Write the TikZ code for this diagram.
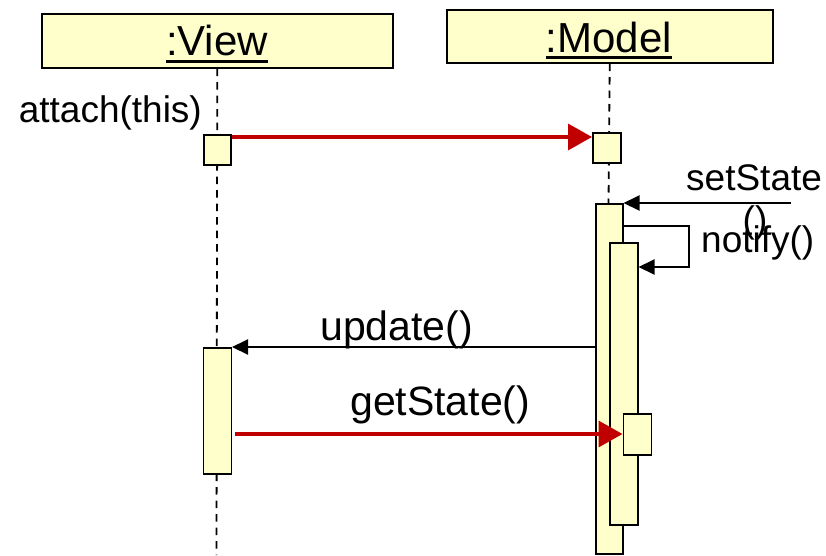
\documentclass[tikz,border=0pt]{standalone}
\usepackage{fontspec}
\setmainfont{Liberation Sans}
\usetikzlibrary{arrows.meta}
\definecolor{actfill}{HTML}{FFFFCC}
\definecolor{msgred}{HTML}{C00000}
\begin{document}
\begin{tikzpicture}[x=1pt,y=-1pt,
  objbox/.style={draw, line width=1.5pt, fill=actfill, inner sep=0pt, anchor=north west},
  actbox/.style={draw, line width=1.5pt, fill=actfill, inner sep=0pt, anchor=north west},
  lifeline/.style={line width=1.8pt, dash pattern=on 7.5pt off 6pt},
  msg/.style={line width=2pt, -{Triangle[length=16pt,width=15pt]}},
  redmsg/.style={draw=msgred, line width=3.5pt, -{Triangle[length=24pt,width=26pt]}, fill=msgred},
  title/.style={inner sep=0pt, anchor=base, font=\fontsize{42}{48}\selectfont},
  lbl/.style={inner sep=0pt, font=\fontsize{37}{44}\selectfont},
  biglbl/.style={inner sep=0pt, font=\fontsize{41}{48}\selectfont},
  uline/.style={line width=2.5pt}]
\useasboundingbox (0,0) rectangle (826,555);

% object heads
\node[objbox, minimum width=351pt, minimum height=54pt] (view) at (41,13) {};
\node[objbox, minimum width=326pt, minimum height=53pt] (model) at (446,9) {};
\node[title] (viewt) at (217,55) {:View};
\node[title] (modelt) at (609,52) {:Model};
\draw[uline] ([yshift=-6.5pt]viewt.base west) -- ([yshift=-6.5pt]viewt.base east);
\draw[uline] ([yshift=-5.5pt]modelt.base west) -- ([yshift=-5.5pt]modelt.base east);

% lifelines
\coordinate (vend) at (216.5,555);
\draw[lifeline] (view.south) -- (vend);
\coordinate (mend) at (608.5,203);
\draw[lifeline] (model.south) -- (mend);

% activation bars
\node[actbox, minimum width=27pt, minimum height=30pt] (va1) at (203,134) {};
\node[actbox, minimum width=28pt, minimum height=30pt] (ma1) at (592,132) {};
\node[actbox, minimum width=27pt, minimum height=350pt] (mact) at (595,203) {};
\node[actbox, minimum width=28pt, minimum height=282pt] (nact) at (609,242) {};
\node[actbox, minimum width=28pt, minimum height=126pt] (vact) at (202.5,347) {};
\node[actbox, minimum width=28pt, minimum height=41pt] (gact) at (622.5,413) {};

% message rows
\coordinate (r1) at (0,137);
\coordinate (r3) at (0,226);
\coordinate (r4) at (0,267);
\coordinate (r6) at (0,434);
\coordinate (ss) at (791,203);

% messages
\draw[redmsg] (va1.east |- r1) -- (ma1.west |- r1);
\draw[msg] (ss) -- (mact.north east);
\draw[msg] (mact.east |- r3) -- ++(65,0) |- (nact.east |- r4);
\draw[msg] (mact.west |- vact.north) -- (vact.north east);
\draw[redmsg] ([xshift=3pt]vact.east |- r6) -- (gact.west |- r6);

% labels
\node[lbl, anchor=base east] (attl) at (202,122) {attach(this)};
\node[lbl, anchor=base west] (ssl) at (686,190) {setState};
\node[lbl, anchor=base] (ssl2) at (755,232) {()};
\node[lbl, anchor=base west] (ntl) at (701,252) {notify()};
\node[biglbl, anchor=base west] (upl) at (320,340) {update()};
\node[biglbl, anchor=base west] (gsl) at (350,415) {getState()};
\end{tikzpicture}
\end{document}
